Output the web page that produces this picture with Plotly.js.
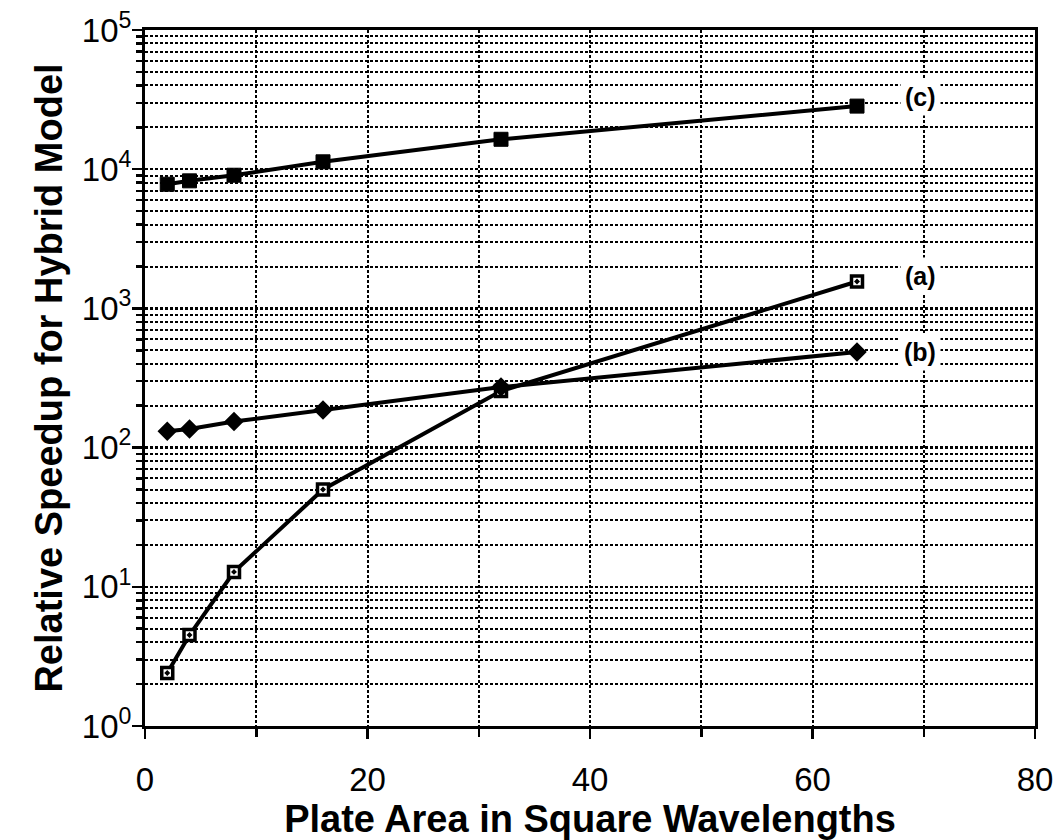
<!DOCTYPE html>
<html>
<head>
<meta charset="utf-8">
<script src="https://cdn.plot.ly/plotly-3.0.1.min.js"></script>
<style>html,body{margin:0;padding:0;background:#fff;}#chart{width:1058px;height:840px;}</style>
</head>
<body>
<div id="chart"></div>
<script>
// Plate area (square wavelengths)
const plateArea = [2, 4, 8, 16, 32, 64];
// Relative speedup values
const speedupA = [2.4, 4.5, 12.8, 50, 255, 1560];
const speedupB = [131, 136, 154, 186, 272, 486];
const speedupC = [7800, 8250, 9050, 11300, 16400, 28400];
const seriesNames = ['(a)', '(b)', '(c)'];
const yTickVals = [1, 10, 100, 1000, 10000, 100000];
const yTickText = ['10<sup>0</sup>', '10<sup>1</sup>', '10<sup>2</sup>', '10<sup>3</sup>', '10<sup>4</sup>', '10<sup>5</sup>'];

const FONT = 'Liberation Sans, Arial, Helvetica, sans-serif';
const lineStyle = {color: '#000', width: 4};
const traces = [
  {x: plateArea, y: speedupA, name: seriesNames[0], mode: 'lines+markers', line: lineStyle,
   marker: {symbol: 'square-dot', size: 11, color: '#fff', line: {color: '#000', width: 3.5}}},
  {x: plateArea, y: speedupB, name: seriesNames[1], mode: 'lines+markers', line: lineStyle,
   marker: {symbol: 'diamond', size: 15, color: '#000'}},
  {x: plateArea, y: speedupC, name: seriesNames[2], mode: 'lines+markers', line: lineStyle,
   marker: {symbol: 'square', size: 14, color: '#000', line: {color: '#000', width: 1}}}
];

const lastIdx = plateArea.length - 1;
const annotations = [
  {x: 69.7, y: Math.log10(speedupA[lastIdx]) + 0.04, text: '<b>(a)</b>'},
  {x: 69.7, y: Math.log10(speedupB[lastIdx]), text: '<b>(b)</b>'},
  {x: 69.7, y: Math.log10(speedupC[lastIdx]) + 0.065, text: '<b>(c)</b>'}
].map(a => Object.assign(a, {xref: 'x', yref: 'y', showarrow: false, bgcolor: '#fff',
  font: {family: FONT, size: 25, color: '#000'}, borderpad: 4}));

const gridDash = '3px,2px';
const layout = {
  width: 1058, height: 840,
  margin: {l: 145, r: 23, t: 30, b: 114},
  paper_bgcolor: '#fff', plot_bgcolor: '#fff',
  showlegend: false,
  font: {family: FONT, color: '#000'},
  xaxis: {
    range: [0, 80], dtick: 20, tick0: 0,
    showline: true, linecolor: '#000', linewidth: 3, mirror: true,
    ticks: 'outside', ticklen: 10, tickwidth: 2.5, tickcolor: '#000',
    ticklabelstandoff: 12,
    showgrid: true, gridcolor: '#000', gridwidth: 2, griddash: gridDash,
    minor: {dtick: 10, showgrid: true, gridcolor: '#000', gridwidth: 2, griddash: gridDash, ticks: 'outside', ticklen: 8, tickwidth: 2.5, tickcolor: '#000'},
    zeroline: false,
    tickfont: {size: 33, family: FONT},
    title: {text: '<b>Plate Area in Square Wavelengths</b>', standoff: 6,
      font: {size: 38, family: FONT}}
  },
  yaxis: {
    type: 'log', range: [0, 5],
    tickvals: yTickVals, ticktext: yTickText,
    showline: true, linecolor: '#000', linewidth: 3, mirror: true,
    ticks: 'outside', ticklen: 10, tickwidth: 2.5, tickcolor: '#000',
    ticklabelstandoff: -6,
    showgrid: true, gridcolor: '#000', gridwidth: 2.5, griddash: gridDash,
    minor: {dtick: 'D1', showgrid: true, gridcolor: '#000', gridwidth: 2, griddash: gridDash, ticks: 'outside', ticklen: 6, tickwidth: 2.5, tickcolor: '#000'},
    zeroline: false,
    tickfont: {size: 33, family: FONT},
    title: {text: '<b>Relative Speedup for Hybrid Model</b>', standoff: 8,
      font: {size: 38, family: FONT}}
  },
  annotations: annotations
};

Plotly.newPlot('chart', traces, layout, {displayModeBar: false, staticPlot: true});
</script>
</body>
</html>
